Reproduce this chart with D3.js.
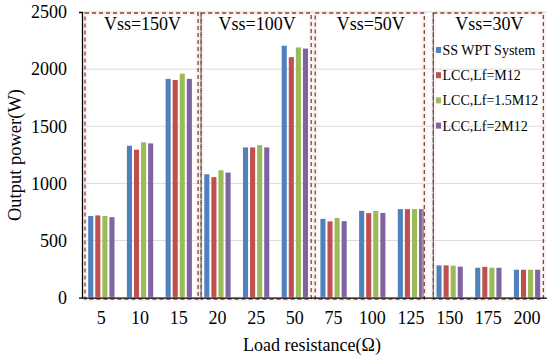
<!DOCTYPE html>
<html>
<head>
<meta charset="utf-8">
<script src="https://cdn.jsdelivr.net/npm/d3@7/dist/d3.min.js"></script>
<style>
  body { margin: 0; background: #fff; }
  svg text { font-family: "Liberation Serif", "Times New Roman", serif !important; fill: #000; }
</style>
</head>
<body>
<script>
var loads = ['5', '10', '15', '20', '25', '50', '75', '100', '125', '150', '175', '200'];
var seriesNames = ['SS WPT System', 'LCC,Lf=M12', 'LCC,Lf=1.5M12', 'LCC,Lf=2M12'];
var ssWpt   = [715, 1330, 1915, 1080, 1315, 2205, 690, 760, 775, 283, 262, 245];
var lccM    = [720, 1295, 1905, 1055, 1315, 2105, 668, 740, 775, 283, 270, 245];
var lcc15M  = [715, 1360, 1960, 1115, 1335, 2190, 698, 760, 775, 280, 262, 245];
var lcc2M   = [705, 1350, 1915, 1095, 1315, 2180, 670, 742, 775, 272, 262, 245];
var yTicks = [0, 500, 1000, 1500, 2000, 2500];
var groups = ['Vss=150V', 'Vss=100V', 'Vss=50V', 'Vss=30V'];
var groupStart = [0, 3, 6, 9];
var colors = ['#4F81BD', '#C0504D', '#9BBB59', '#8064A2'];

var width = 550, height = 359;
var plotL = 82, plotR = 546.4, plotT = 12, plotB = 297.7;

var svg = d3.select('body').append('svg')
  .attr('width', width)
  .attr('height', height);

var allSeries = [ssWpt, lccM, lcc15M, lcc2M];
var rows = loads.map(function(l, i){
  return { load: l, vals: allSeries.map(function(s){ return s[i]; }) };
});

var x0 = d3.scaleBand().domain(loads).range([plotL, plotR])
  .paddingInner(0.32).paddingOuter(0.16);
var x1 = d3.scaleBand().domain(d3.range(4)).range([0, x0.bandwidth()])
  .paddingInner(0.28);
var y = d3.scaleLinear().domain([0, 2500]).range([plotB, plotT]);

// gridlines
svg.append('g').selectAll('line')
  .data(yTicks.slice(1))
  .enter().append('line')
  .attr('x1', plotL).attr('x2', plotR)
  .attr('y1', function(d){ return y(d); })
  .attr('y2', function(d){ return y(d); })
  .style('stroke', '#dcdcdc')
  .style('stroke-width', 1);

// bars
svg.append('g').selectAll('g')
  .data(rows)
  .enter().append('g')
  .attr('transform', function(d){ return 'translate(' + x0(d.load) + ',0)'; })
  .selectAll('rect')
  .data(function(d){ return d.vals; })
  .enter().append('rect')
  .attr('x', function(d, i){ return x1(i); })
  .attr('y', function(d){ return y(d); })
  .attr('width', x1.bandwidth())
  .attr('height', function(d){ return plotB - y(d); })
  .style('fill', function(d, i){ return colors[i]; });

// dashed boxes
var step = x0.step();
var boxes = groupStart.map(function(s, i){
  var bx0 = plotL + s * step + (i == 2 ? 1 : 3);
  var bx1 = plotL + (s + 3) * step - (i == 0 ? 0 : (i == 2 ? 6 : 3));
  return { x0: bx0, x1: bx1, label: groups[i] };
});
var boxG = svg.append('g');
boxG.selectAll('rect.glow')
  .data(boxes)
  .enter().append('rect')
  .attr('class', 'glow')
  .attr('x', function(d){ return d.x0; })
  .attr('y', plotT + 1)
  .attr('width', function(d){ return d.x1 - d.x0; })
  .attr('height', plotB + 1.5 - plotT - 1)
  .style('fill', 'none')
  .style('stroke', '#fbd9e6')
  .style('stroke-opacity', 0.35)
  .style('stroke-width', 5);
boxG.selectAll('rect.box')
  .data(boxes)
  .enter().append('rect')
  .attr('class', 'box')
  .attr('x', function(d){ return d.x0; })
  .attr('y', plotT + 1)
  .attr('width', function(d){ return d.x1 - d.x0; })
  .attr('height', plotB + 1.5 - plotT - 1)
  .style('fill', 'none')
  .style('stroke', '#7b4a2c')
  .style('stroke-width', 1.3)
  .style('stroke-dasharray', '4,3');
// greenish left edges on 2nd and 4th box
boxG.selectAll('line.gl')
  .data([boxes[1], boxes[3]])
  .enter().append('line')
  .attr('x1', function(d){ return d.x0; })
  .attr('x2', function(d){ return d.x0; })
  .attr('y1', plotT + 1).attr('y2', plotB + 1.5)
  .style('stroke', '#3d6b52')
  .style('stroke-width', 1.3)
  .style('stroke-dasharray', '4,3');

boxG.selectAll('text')
  .data(boxes)
  .enter().append('text')
  .attr('x', function(d){ return (d.x0 + d.x1) / 2 + 1; })
  .attr('y', 30)
  .attr('text-anchor', 'middle')
  .style('font-size', '18px')
  .text(function(d){ return d.label; });

// axes
var yAxis = d3.axisLeft(y).tickValues(yTicks).tickFormat(d3.format('d'))
  .tickSize(0).tickSizeOuter(3).tickPadding(15);
var gy = svg.append('g').attr('transform', 'translate(' + plotL + ',0)').call(yAxis)
  .attr('font-family', null);
gy.selectAll('text').style('font-size', '18px').attr('x', -15);
gy.select('.domain').style('stroke', '#000').style('stroke-width', 1.3);

var xAxis = d3.axisBottom(x0).tickSize(0).tickSizeOuter(0).tickPadding(14);
var gx = svg.append('g').attr('transform', 'translate(0,' + plotB + ')').call(xAxis)
  .attr('font-family', null);
gx.selectAll('text').style('font-size', '18px');
gx.select('.domain').style('stroke', '#000').style('stroke-width', 1.3);

// axis titles
svg.append('text')
  .attr('x', 312).attr('y', 351)
  .attr('text-anchor', 'middle')
  .style('font-size', '18px')
  .text('Load resistance(\u03A9)');
svg.append('text')
  .attr('transform', 'translate(21,155) rotate(-90)')
  .attr('text-anchor', 'middle')
  .style('font-size', '18.5px')
  .text('Output power(W)');

// legend
var legend = svg.append('g').selectAll('g')
  .data(seriesNames)
  .enter().append('g')
  .attr('transform', function(d, i){ return 'translate(436,' + (50 + i * 25.2) + ')'; });
legend.append('rect')
  .attr('x', 0).attr('y', -3)
  .attr('width', 5).attr('height', 6)
  .style('fill', function(d, i){ return colors[i]; });
legend.append('text')
  .attr('x', 6.5).attr('y', 5)
  .style('font-size', '14px')
  .text(function(d){ return d; });
</script>
</body>
</html>
